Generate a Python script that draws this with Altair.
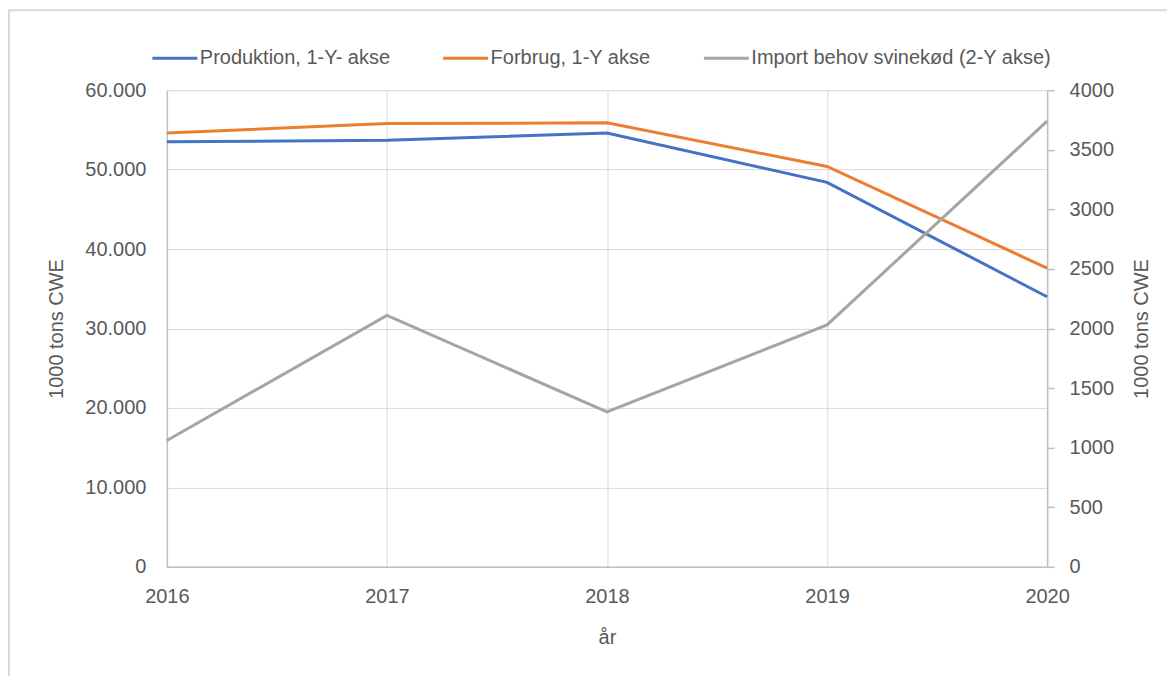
import altair as alt
import pandas as pd

years = [2016, 2017, 2018, 2019, 2020]
produktion = [53500, 53700, 54600, 48400, 34000]
forbrug = [54600, 55800, 55900, 50400, 37600]
import_behov = [1060, 2110, 1300, 2030, 3740]

series_names = ["Produktion, 1-Y- akse", "Forbrug, 1-Y akse", "Import behov svinekød (2-Y akse)"]
colors = ["#4472C4", "#ED7D31", "#A5A5A5"]
left_ticks = [0, 10000, 20000, 30000, 40000, 50000, 60000]
right_ticks = [0, 500, 1000, 1500, 2000, 2500, 3000, 3500, 4000]

left_df = pd.DataFrame({
    "år": years * 2,
    "værdi": produktion + forbrug,
    "serie": [series_names[0]] * len(years) + [series_names[1]] * len(years),
})
right_df = pd.DataFrame({
    "år": years,
    "import": import_behov,
    "serie": [series_names[2]] * len(years),
})

FONT = "Liberation Sans, Arial, sans-serif"
TXT = "#595959"
GRID = "#D9D9D9"
AXIS = "#BFBFBF"

color = alt.Color(
    "serie:N",
    scale=alt.Scale(domain=series_names, range=colors),
    legend=alt.Legend(
        orient="none", direction="horizontal", legendX=-16, legendY=-56,
        title=None, symbolType="stroke", symbolSize=2025, symbolStrokeWidth=3,
        labelFont=FONT, labelFontSize=20, labelColor=TXT, labelOffset=1,
        columnPadding=46, labelLimit=400,
    ),
)

x = alt.X(
    "år:Q",
    scale=alt.Scale(domain=[2016, 2020], nice=False, zero=False),
    axis=alt.Axis(
        values=years, format="d", title="år", grid=True, gridColor=GRID,
        domainColor=AXIS, domainWidth=1.5, ticks=False, labelPadding=20,
        labelFlush=False,
        labelFont=FONT, labelFontSize=20, labelColor=TXT,
        titleFont=FONT, titleFontSize=20, titleColor=TXT, titleFontWeight="normal",
        titleY=71, titleBaseline="middle",
    ),
)

lines_left = alt.Chart(left_df).mark_line(strokeWidth=3).encode(
    x=x,
    y=alt.Y(
        "værdi:Q",
        scale=alt.Scale(domain=[0, 60000], nice=False),
        axis=alt.Axis(
            values=left_ticks, labelExpr="replace(format(datum.value, ',d'), ',', '.')",
            grid=True, gridColor=GRID, ticks=False, domainColor=AXIS, domainWidth=1.5,
            labelPadding=21, labelFont=FONT, labelFontSize=20, labelColor=TXT,
            title="1000 tons CWE", titleFont=FONT, titleFontSize=20, titleColor=TXT,
            titleFontWeight="normal", titleAngle=270, titleX=-110, titleY=238.5,
            titleBaseline="middle",
        ),
    ),
    color=color,
)

lines_right = alt.Chart(right_df).mark_line(strokeWidth=3).encode(
    x=x,
    y=alt.Y(
        "import:Q",
        scale=alt.Scale(domain=[0, 4000], nice=False),
        axis=alt.Axis(
            orient="right", values=right_ticks, format="d", grid=False,
            ticks=True, tickSize=7, tickColor=AXIS, tickWidth=1.5,
            domainColor=AXIS, domainWidth=1.5, labelPadding=15,
            labelFont=FONT, labelFontSize=20, labelColor=TXT,
            title="1000 tons CWE", titleFont=FONT, titleFontSize=20, titleColor=TXT,
            titleFontWeight="normal", titleAngle=270, titleX=94, titleY=238.5,
            titleBaseline="middle",
        ),
    ),
    color=color,
)

# light chart-area frame (top and left edges), decoration only
frame_df = pd.DataFrame({"k": [0]})
frame_top = alt.Chart(frame_df).mark_rule(color=GRID, strokeWidth=2, clip=False).encode(
    x=alt.value(-160), x2=alt.value(1010), y=alt.value(-80)
)
frame_left = alt.Chart(frame_df).mark_rule(color=GRID, strokeWidth=2, clip=False).encode(
    x=alt.value(-158), y=alt.value(-80), y2=alt.value(620)
)

chart = (
    alt.layer(frame_top, frame_left, lines_left, lines_right)
    .resolve_scale(y="independent")
    .properties(
        width=881, height=477, autosize="none",
        padding={"left": 159, "top": 82, "right": 120, "bottom": 110},
        background="white",
    )
    .configure_view(stroke=None)
)

chart.save("out.html", embed_options={"renderer": "svg", "actions": False})
